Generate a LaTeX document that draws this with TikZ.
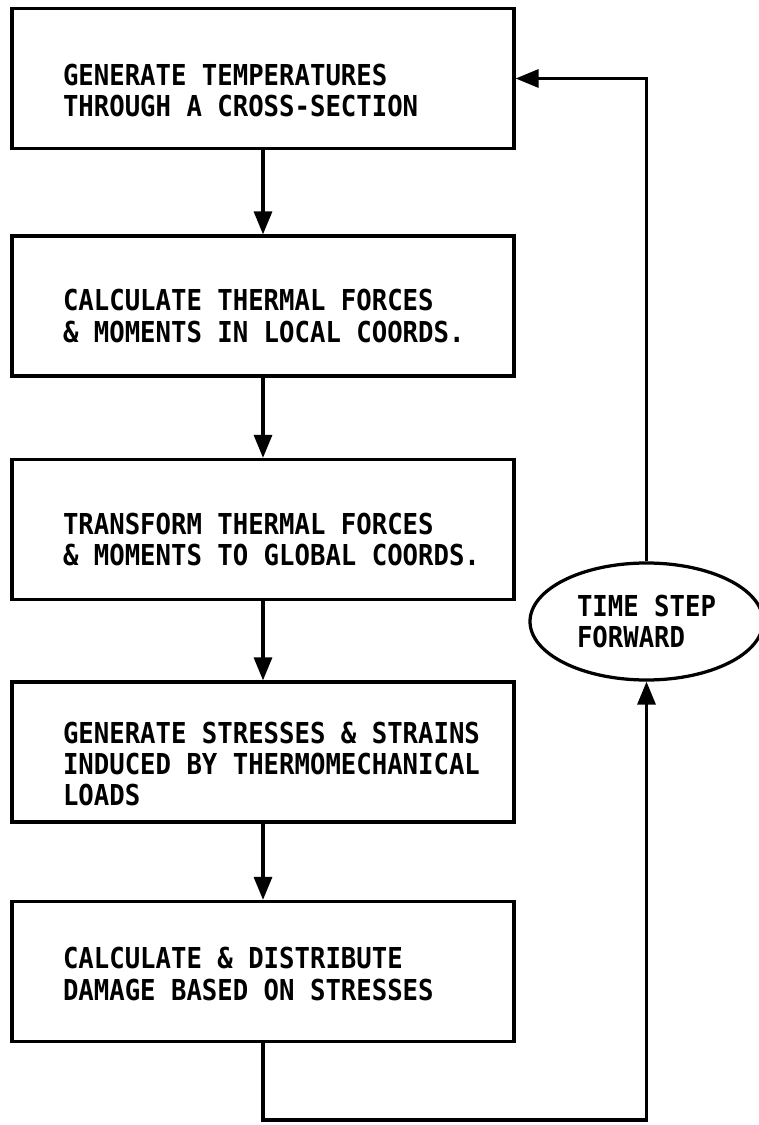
\documentclass[tikz,border=0pt]{standalone}
\usepackage{fontspec}
\newfontfamily\flowfont[FakeStretch=0.89]{DejaVu Sans Mono}
\usetikzlibrary{arrows.meta,shapes.geometric}
\tikzset{
  block/.style={draw, minimum width=10.04cm, minimum height=2.8cm, inner sep=0pt},
  blocktext/.style={anchor=west, align=left, inner sep=0pt, font=\flowfont\bfseries\fontsize{16.4}{17.8}\selectfont},
  loopstep/.style={draw, ellipse, minimum width=4.66cm, minimum height=2.34cm, inner sep=0pt, align=left, font=\flowfont\bfseries\fontsize{16.4}{18.2}\selectfont},
  arr/.style={-{Triangle[length=4.6mm,width=3.6mm]}}
}
\begin{document}
\begin{tikzpicture}[line width=.65mm]
\useasboundingbox (0,0) rectangle (15.16,-22.5);
%Kaesten
\node[block] (temp) at (5.26,-1.57) {};
\node[block] (locl) at (5.26,-6.12) {};
\node[block] (glob) at (5.26,-10.59) {};
\node[block] (strs) at (5.26,-15.04) {};
\node[block] (dmg) at (5.26,-19.43) {};
\node[loopstep] (tstep) at (12.93,-12.43) {TIME STEP\\FORWARD};
%Beschriftung
\node[blocktext] (temptxt) at ([xshift=1.02cm,yshift=-.24cm]temp.west) {GENERATE TEMPERATURES\\THROUGH A CROSS-SECTION};
\node[blocktext] (locltxt) at ([xshift=1.02cm,yshift=-.2cm]locl.west) {CALCULATE THERMAL FORCES\\\& MOMENTS IN LOCAL COORDS.};
\node[blocktext] (globtxt) at ([xshift=1.02cm,yshift=-.2cm]glob.west) {TRANSFORM THERMAL FORCES\\\& MOMENTS TO GLOBAL COORDS.};
\node[blocktext] (strstxt) at ([xshift=1.02cm,yshift=-.24cm]strs.west) {GENERATE STRESSES \& STRAINS\\INDUCED BY THERMOMECHANICAL\\LOADS};
\node[blocktext] (dmgtxt) at ([xshift=1.02cm,yshift=-.05cm]dmg.west) {CALCULATE \& DISTRIBUTE\\DAMAGE BASED ON STRESSES};
%Pfeile
\draw[arr] (temp) -- (locl);
\draw[arr] (locl) -- (glob);
\draw[arr] (glob) -- (strs);
\draw[arr] (strs) -- (dmg);
%Schleife
\coordinate (turn) at (5.26,-22.4);
\draw[arr] (dmg.south) -- (turn) -| (tstep.south);
\draw[arr] (tstep.north) |- (temp.east);
\end{tikzpicture}
\end{document}
